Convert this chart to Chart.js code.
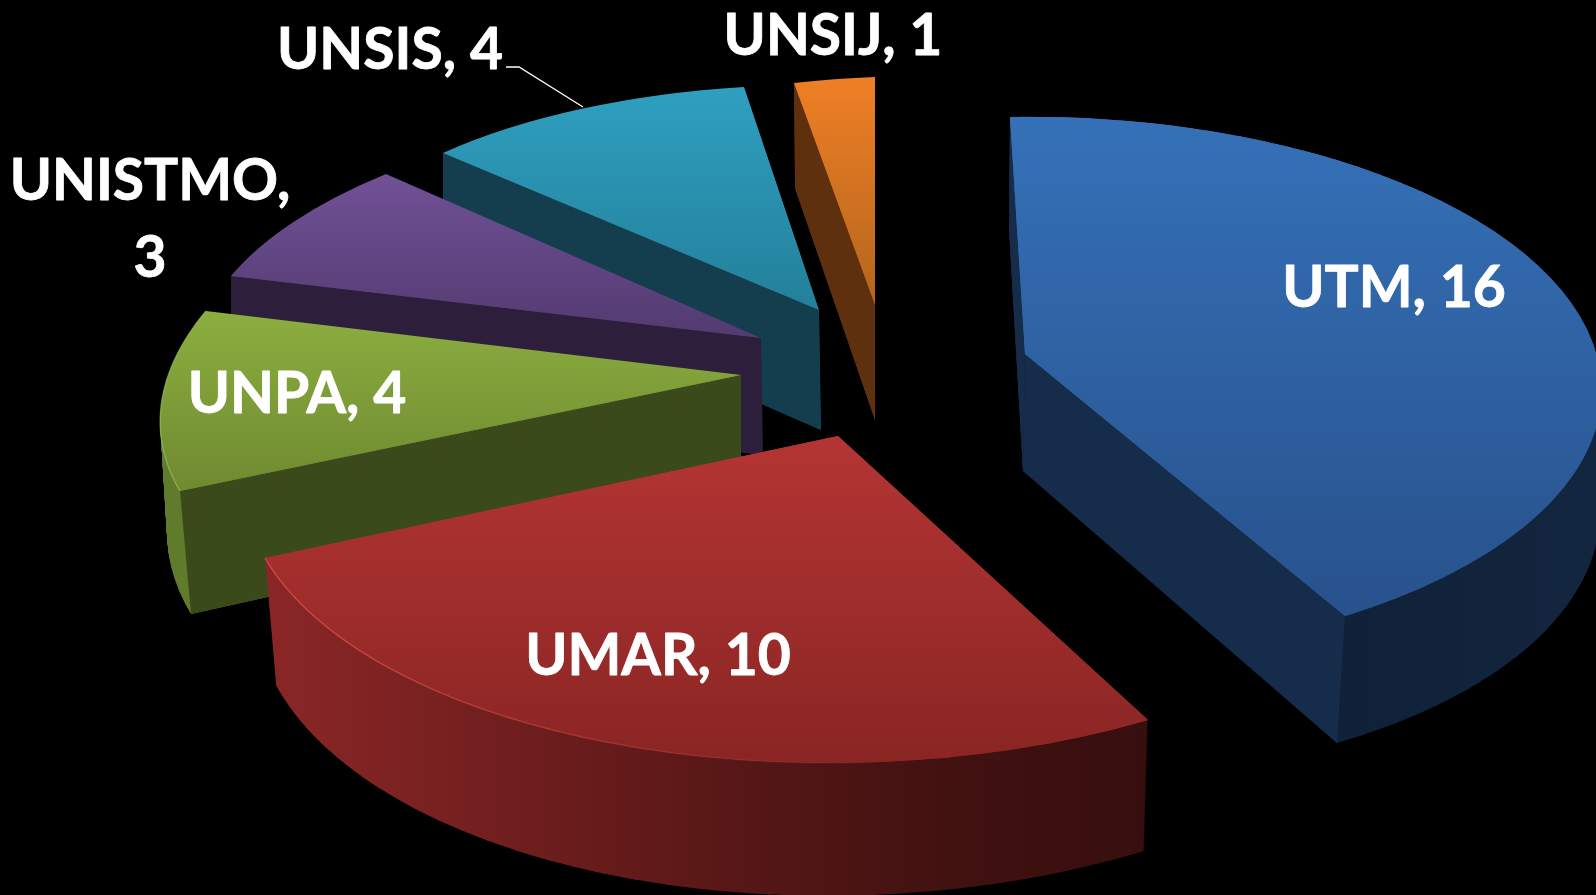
<!DOCTYPE html>
<html><head><meta charset="utf-8">
<style>html,body{margin:0;padding:0;background:#000;overflow:hidden}canvas{display:block}</style>
<script src="https://cdn.jsdelivr.net/npm/chart.js@4"></script>
</head><body><canvas id="c" width="1596" height="895"></canvas>
<script>
const categories = ['UTM','UMAR','UNPA','UNISTMO','UNSIS','UNSIJ'];
const values = [16,10,4,3,4,1];

// Per-slice 3D view: where the sector's tip / start / end / mid-rim land on top and bottom faces.
const views = [
 {T:[1025,354],A:[1010,117],B:[1345,616],M:[1556,284],Tb:[1023,471],Ab:[1009,228],Bb:[1337,743],Mb:[1555,404],cut:['A','B'],
  top:[117,640,['#3571b8','#27508a']],rim:[1300,1596,['#0f2037','#13263f']],cutC:'#162c4b'},
 {T:[838,436],A:[1148,720],B:[265,558],M:[606,742],Tb:[838,555],Ab:[1144,851],Bb:[276,685],Mb:[606,874],cut:[],
  top:[436,765,['#b43533','#892524']],rim:[266,1148,['#8a2726','#731f1f','#5a1817','#431211','#370e0e']],cutC:'#3a0f0e',
  edge:[266,900,'rgba(214,78,72,0.85)','rgba(214,78,72,0)']},
 {T:[741,375],A:[180,491],B:[206,311],Tb:[741,492],Ab:[191,614],Bb:[206,420],cut:['A'],
  top:[311,490,['#8cae40','#6f8a30']],rim:[159,191,['#5f7b2b','#5f7b2b']],cutC:'#3b4a1a',
  edge:[159,206,'rgba(150,188,84,0.7)','rgba(150,188,84,0.7)']},
 {T:[761,338],A:[231,276],B:[386,174],Tb:[763,455],Ab:[231,385],Bb:[386,280],cut:['A'],
  top:[174,338,['#705196','#533a70']],rim:[231,386,['#3a2750','#3a2750']],cutC:'#2d1e3c'},
 {T:[819,310],A:[443,153],B:[744,87],Tb:[821,430],Ab:[443,265],Bb:[744,195],cut:['A'],
  top:[87,310,['#2f9fc0','#23809a']],rim:[443,744,['#143e4e','#143e4e']],cutC:'#143e4e'},
 {T:[875,305],A:[794,83],B:[875,77],Tb:[875,420],Ab:[795,188],Bb:[875,185],cut:['A'],
  top:[77,305,['#ef7f26','#b4651c']],rim:[794,875,['#5e300e','#5e300e']],cutC:'#5e300e'}
];
const drawOrder = [5,4,3,2,0,1];
const labelSpots = [
 {x:1394,y:289},{x:658,y:657},{x:297,y:395},{x:150,y:182,wrap:true,y2:259},{x:390,y:51},{x:833,y:37}
];
const lerp=(p,q,t)=>[p[0]+(q[0]-p[0])*t,p[1]+(q[1]-p[1])*t];

function solve(A,b){
  const n=b.length,M=A.map((r,i)=>[...r,b[i]]);
  for(let i=0;i<n;i++){
    let p=i;for(let r=i+1;r<n;r++)if(Math.abs(M[r][i])>Math.abs(M[p][i]))p=r;
    [M[i],M[p]]=[M[p],M[i]];
    for(let r=0;r<n;r++){if(r===i)continue;const f=M[r][i]/M[i][i];for(let c=i;c<=n;c++)M[r][c]-=f*M[i][c];}
  }
  return M.map((r,i)=>r[n]/r[i]);
}
// Homography from the unit pie plane to the screen (perspective of one slice).
function homography(a0,a1,T,A,B,Mid){
  const am=(a0+a1)/2,src=[[0,0],[Math.cos(a0),Math.sin(a0)],[Math.cos(am),Math.sin(am)],[Math.cos(a1),Math.sin(a1)]],dst=[T,A,Mid,B];
  const L=[],r=[];
  src.forEach((s,i)=>{
    const [x,y]=s,[u,v]=dst[i];
    L.push([x,y,1,0,0,0,-u*x,-u*y]);r.push(u);
    L.push([0,0,0,x,y,1,-v*x,-v*y]);r.push(v);
  });
  const h=solve(L,r);
  return a=>{const x=Math.cos(a),y=Math.sin(a),w=h[6]*x+h[7]*y+1;return [(h[0]*x+h[1]*y+h[2])/w,(h[3]*x+h[4]*y+h[5])/w];};
}
function matrix(arc,a0,a1,T,A,B){
  const R=arc.outerRadius,c0=Math.cos(a0)*R,s0=Math.sin(a0)*R,c1=Math.cos(a1)*R,s1=Math.sin(a1)*R,det=c0*s1-c1*s0;
  const v0=[A[0]-T[0],A[1]-T[1]],v1=[B[0]-T[0],B[1]-T[1]];
  const a=(v0[0]*s1-v1[0]*s0)/det,c=(-v0[0]*c1+v1[0]*c0)/det,
        b=(v0[1]*s1-v1[1]*s0)/det,d=(-v0[1]*c1+v1[1]*c0)/det;
  return {a,b,c,d,e:T[0]-(a*arc.x+c*arc.y),f:T[1]-(b*arc.x+d*arc.y)};
}
function grad(ctx,m,axis,s0,s1,stops){
  const gx=axis==='y'?m.b:m.a,gy=axis==='y'?m.d:m.c,off=axis==='y'?m.f:m.e,n2=gx*gx+gy*gy;
  const k0=(s0-off)/n2,k1=(s1-off)/n2;
  const g=ctx.createLinearGradient(gx*k0,gy*k0,gx*k1,gy*k1);
  stops.forEach((s,i)=>g.addColorStop(stops.length>1?i/(stops.length-1):0,s));
  return g;
}
// Draw the library's arc element through a per-wedge transform.
function drawWedge(ctx,arc,m,a0,a1,fill){
  const o=arc.options,s=arc.startAngle,e=arc.endAngle,c=arc.circumference;
  arc.options=Object.assign({},o,{backgroundColor:fill,borderWidth:0});
  arc.startAngle=a0;arc.endAngle=a1;arc.circumference=a1-a0;
  ctx.save();
  ctx.setTransform(m.a,m.b,m.c,m.d,m.e,m.f);
  arc.draw(ctx);
  ctx.restore();
  arc.options=o;arc.startAngle=s;arc.endAngle=e;arc.circumference=c;
}
function drawFace(ctx,arc,T,A,B,Mid,paint,under){
  const a0=arc.startAngle,a1=arc.endAngle;
  if(!Mid){
    const m=matrix(arc,a0,a1,T,A,B);
    drawWedge(ctx,arc,m,a0,a1,paint(m));
    return;
  }
  const H=homography(a0,a1,T,A,B,Mid),n=Math.ceil((a1-a0)/(Math.PI/60)),da=(a1-a0)/n;
  if(under){ // same-colour underlay closes hairline seams between the thin wedges near the tip
    ctx.beginPath();ctx.moveTo(...T);
    for(let i=0;i<=n;i++)ctx.lineTo(...H(a0+i*da));
    ctx.closePath();ctx.fillStyle=under;ctx.fill();
  }
  for(let i=0;i<n;i++){
    const p=a0+i*da,q=a0+(i+1)*da,m=matrix(arc,p,q,T,H(p),H(q));
    drawWedge(ctx,arc,m,p,Math.min(a1,q+(i<n-1?0.006:0)),paint(m));
  }
}
const pie3d={
  id:'pie3d',
  beforeDatasetsDraw(chart){
    const ctx=chart.ctx,arcs=chart.getDatasetMeta(0).data;
    drawOrder.forEach(i=>{
      const arc=arcs[i],v=views[i];
      const depth=Math.max(v.Bb[1]-v.B[1],v.Ab[1]-v.A[1]),n=Math.ceil(depth*1.1);
      for(let k=n;k>=1;k--){
        const t=k/n;
        drawFace(ctx,arc,lerp(v.T,v.Tb,t),lerp(v.A,v.Ab,t),lerp(v.B,v.Bb,t),v.M?lerp(v.M,v.Mb,t):null,
          m=>grad(ctx,m,'x',v.rim[0],v.rim[1],v.rim[2]));
      }
      v.cut.forEach(e=>{
        const C=v[e],Cb=v[e+'b'];
        ctx.beginPath();ctx.moveTo(...v.T);ctx.lineTo(...C);ctx.lineTo(...Cb);ctx.lineTo(...v.Tb);ctx.closePath();
        ctx.fillStyle=v.cutC;ctx.fill();
      });
      const ug=ctx.createLinearGradient(0,v.top[0],0,v.top[1]);
      v.top[2].forEach((s,j)=>ug.addColorStop(j/(v.top[2].length-1),s));
      drawFace(ctx,arc,v.T,v.A,v.B,v.M||null,m=>grad(ctx,m,'y',v.top[0],v.top[1],v.top[2]),ug);
      if(v.edge){
        const a0=arc.startAngle,a1=arc.endAngle;
        const mid=v.M||(()=>{const h=(a1-a0)/2,k=1/(2*Math.cos(h));
          return [v.T[0]+(v.A[0]+v.B[0]-2*v.T[0])*k,v.T[1]+(v.A[1]+v.B[1]-2*v.T[1])*k];})();
        const H=homography(a0,a1,v.T,v.A,v.B,mid);
        const g=ctx.createLinearGradient(v.edge[0],0,v.edge[1],0);
        g.addColorStop(0,v.edge[2]);g.addColorStop(1,v.edge[3]);
        ctx.beginPath();
        for(let j=0;j<=80;j++){const P=H(a0+(a1-a0)*j/80);j?ctx.lineTo(...P):ctx.moveTo(...P);}
        ctx.strokeStyle=g;ctx.lineWidth=1.4;ctx.stroke();
      }
    });
    return false;
  },
  afterDraw(chart){
    const ctx=chart.ctx;
    ctx.save();
    ctx.strokeStyle='#fff';ctx.lineWidth=1.3;
    ctx.beginPath();ctx.moveTo(506,67);ctx.lineTo(519,67);ctx.lineTo(583,107);ctx.stroke();
    ctx.fillStyle='#fff';ctx.font='bold 57px Lato';ctx.textAlign='center';ctx.textBaseline='middle';
    ctx.lineWidth=0.8;ctx.lineJoin='round';
    const put=(t,x,y)=>{ctx.fillText(t,x,y);ctx.strokeText(t,x,y);};
    categories.forEach((c,i)=>{
      const s=labelSpots[i];
      if(s.wrap){put(c+',',s.x,s.y);put(String(values[i]),s.x,s.y2);}
      else put(c+', '+values[i],s.x,s.y);
    });
    ctx.restore();
  }
};
new Chart(document.getElementById('c'),{
  type:'pie',
  data:{labels:categories,datasets:[{data:values,borderWidth:0,backgroundColor:views.map(v=>v.top[2][0])}]},
  options:{responsive:false,animation:false,devicePixelRatio:1,
    plugins:{legend:{display:false},tooltip:{enabled:false}},events:[]},
  plugins:[pie3d]
});
</script></body></html>
